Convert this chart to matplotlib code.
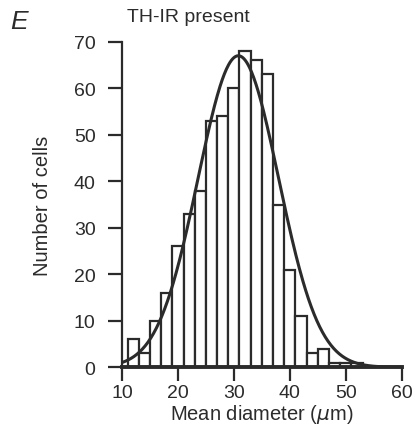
import numpy as np
import matplotlib
matplotlib.use("Agg")
import matplotlib.pyplot as plt

# histogram of mean diameters, 2 um bins starting at 11
bin_left = [11, 13, 15, 17, 19, 21, 23, 25, 27, 29, 31, 33, 35, 37, 39, 41, 43, 45, 47, 49, 51]
counts = [6, 3, 10, 16, 26, 33, 38, 53, 54, 60, 68, 66, 63, 35, 21, 11, 3, 4, 1, 1, 1]
bin_width = 2

# fitted gaussian
fit_mean = 30.8
fit_sd = 7.2
fit_peak = 67.0

xticks = [10, 20, 30, 40, 50, 60]
yticks = [0, 10, 20, 30, 40, 50, 60, 70]

ink = '#2b2b2b'
plt.rcParams['font.family'] = ['Liberation Sans', 'DejaVu Sans']

fig = plt.figure(figsize=(4.13, 4.39), dpi=100)
ax = fig.add_axes([0.2954, 0.161, 0.6772, 0.7415])

ax.bar(bin_left, counts, width=bin_width, align='edge', facecolor='white',
       edgecolor=ink, linewidth=1.6, zorder=2)

xs = np.linspace(10, 60, 400)
ys = fit_peak * np.exp(-(xs - fit_mean) ** 2 / (2 * fit_sd ** 2))
ax.plot(xs, ys, color=ink, linewidth=2.2, zorder=3)

ax.set_xlim(10, 60)
ax.set_ylim(0, 70)
ax.set_xticks(xticks)
ax.set_yticks(yticks)
for s in ['top', 'right']:
    ax.spines[s].set_visible(False)
for s in ['left', 'bottom']:
    ax.spines[s].set_linewidth(1.6)
    ax.spines[s].set_color(ink)
    ax.spines[s].set_zorder(4)
ax.spines['bottom'].set_linewidth(2.8)
ax.tick_params(direction='out', length=10, width=1.6, color=ink,
               labelsize=14, labelcolor=ink)
ax.tick_params(axis='x', pad=2)
ax.tick_params(axis='y', pad=9)

ax.set_xlabel(r'Mean diameter ($\mu$m)', fontsize=14.5, color=ink, labelpad=1)
ax.set_ylabel('Number of cells', fontsize=14.5, color=ink, labelpad=16)

fig.text(10 / 413, 1 - 22 / 439, 'E', fontsize=19, style='italic',
         color=ink, va='center', ha='left')
fig.text(127 / 413, 1 - 18 / 439, 'TH-IR present', fontsize=14,
         color=ink, va='center', ha='left')

fig.savefig('out.png', dpi=100)
